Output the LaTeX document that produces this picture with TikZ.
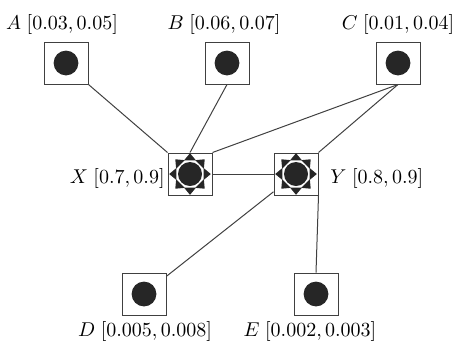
\documentclass[tikz,border=0pt]{standalone}
\usetikzlibrary{positioning}

\begin{document}
\begin{tikzpicture}[x=0.5pt,y=-0.5pt,
    leaf/.style={draw=black!75,line width=0.5pt,minimum width=22pt,minimum height=21pt,inner sep=0pt},
    hub/.style={leaf},
    wire/.style={black!75,line width=0.5pt},
    lbl/.style={inner sep=0pt,font=\fontsize{9.6}{11}\selectfont}]
  \useasboundingbox (0,0) rectangle (459,343);
  % plain nodes
  \node[leaf] (A) at (66,63) {};
  \node[leaf] (B) at (227,63) {};
  \node[leaf] (C) at (398,63) {};
  \node[leaf] (D) at (144,294) {};
  \node[leaf] (E) at (316,294) {};
  % the two hubs
  \node[hub] (X) at (190,174) {};
  \node[hub] (Y) at (296,174) {};
  \foreach \n in {A,B,C,D,E}{
    \fill[black!85] (\n.center) circle (6.2pt);
  }
  % links
  \draw[wire] (A.south east) -- (X.north west);
  \draw[wire] (B.south) -- (X.north);
  \draw[wire] (C.south) -- (X.north east);
  \draw[wire] (C.south) -- (Y.north east);
  \draw[wire] (X) -- (Y);
  \draw[wire] (Y) -- (D);
  \draw[wire] (Y.south east) -- (E.north);
  \foreach \n in {X,Y}{
    \fill[black!85] (\n.center) circle (6pt);
    \foreach \a in {0,45,...,315}{
      \fill[black!85,shift={(\n.center)},rotate=\a] (6.8pt,-3pt) -- (10.4pt,0pt) -- (6.8pt,3pt) -- cycle;
    }
  }
  % intervals
  \node[lbl] (A-lbl) at (62,24) {$A\;[0.03, 0.05]$};
  \node[lbl] (B-lbl) at (224,24) {$B\;[0.06, 0.07]$};
  \node[lbl] (C-lbl) at (398,24) {$C\;[0.01, 0.04]$};
  \node[lbl,anchor=east] (X-lbl) at (165,178) {$X\;[0.7, 0.9]$};
  \node[lbl,anchor=west] (Y-lbl) at (330,178) {$Y\;[0.8, 0.9]$};
  \node[lbl] (D-lbl) at (145,331) {$D\;[0.005, 0.008]$};
  \node[lbl] (E-lbl) at (310,331) {$E\;[0.002, 0.003]$};
\end{tikzpicture}
\end{document}
